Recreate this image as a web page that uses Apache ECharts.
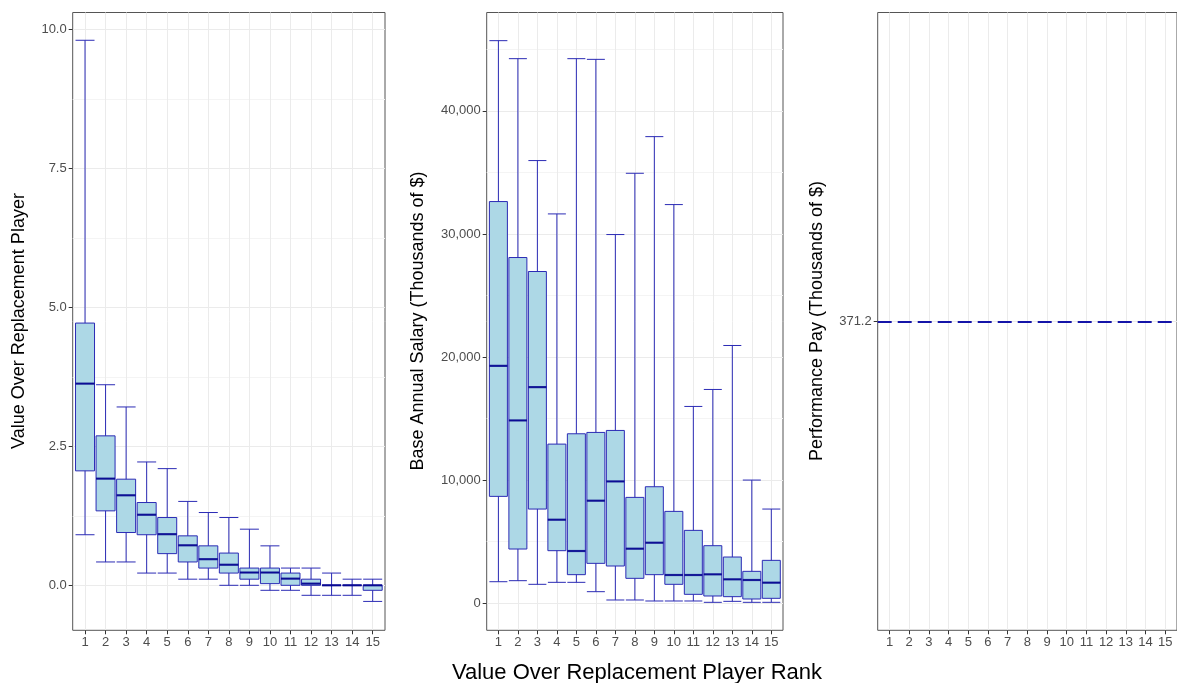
<!DOCTYPE html>
<html>
<head>
<meta charset="utf-8">
<script src="https://cdn.jsdelivr.net/npm/echarts@6/dist/echarts.min.js"></script>
<style>
html,body{margin:0;padding:0;background:#fff;}
#chart{width:1177px;height:683px;}
</style>
</head>
<body>
<div id="chart"></div>
<script>
// ---- data ----
const categories = [1,2,3,4,5,6,7,8,9,10,11,12,13,14,15];

// Panel 1: Value Over Replacement Player
const vorpLow    = [0.91, 0.42, 0.42, 0.22, 0.22, 0.11, 0.11, 0.00, 0.00, -0.09, -0.09, -0.18, -0.18, -0.18, -0.29];
const vorpQ1     = [2.06, 1.34, 0.95, 0.91, 0.57, 0.42, 0.31, 0.22, 0.11, 0.03, 0.00, 0.00, 0.00, 0.00, -0.09];
const vorpMedian = [3.63, 1.92, 1.62, 1.27, 0.92, 0.72, 0.47, 0.37, 0.23, 0.23, 0.12, 0.03, 0.00, 0.00, 0.00];
const vorpQ3     = [4.72, 2.69, 1.91, 1.49, 1.22, 0.89, 0.71, 0.58, 0.31, 0.31, 0.22, 0.11, 0.00, 0.00, 0.00];
const vorpHigh   = [9.81, 3.61, 3.21, 2.22, 2.10, 1.51, 1.31, 1.22, 1.01, 0.71, 0.31, 0.31, 0.22, 0.11, 0.11];

// Panel 2: Base Annual Salary (Thousands of $)
const salLow    = [1730, 1814, 1517, 1679, 1679, 920, 244, 244, 162, 162, 162, 54, 135, 54, 54];
const salQ1     = [8667, 4387, 7636, 4252, 2302, 3222, 3006, 2004, 2302, 1517, 704, 569, 514, 325, 379];
const salMedian = [19277, 14840, 17547, 6770, 4225, 8315, 9883, 4414, 4900, 2275, 2275, 2329, 1923, 1869, 1652];
const salQ3     = [32632, 28083, 26946, 12916, 13755, 13864, 14026, 8585, 9450, 7447, 5904, 4657, 3737, 2573, 3466];
const salHigh   = [45711, 44248, 35963, 31627, 44248, 44192, 29950, 34931, 37909, 32386, 15977, 17357, 20931, 9992, 7636];

// Panel 3: Performance Pay (Thousands of $)
const performancePay = 371.2;

// tick labels
const vorpTicks = [0, 2.5, 5, 7.5, 10];
const vorpMinorTicks = [1.25, 3.75, 6.25, 8.75];
const salTicks = [0, 10000, 20000, 30000, 40000];
const salMinorTicks = [5000, 15000, 25000, 35000, 45000];
const payTicks = [371.2];

// ---- styles ----
const FONT = '"Liberation Sans", Arial, sans-serif';
const boxFill = '#ADD8E6';
const boxLine = '#2B2BB5';
const medianColor = '#00008B';
const gridMajor = '#EBEBEB';
const gridMinor = '#F4F4F4';
const borderColor = '#555555';
const tickLabelColor = '#4D4D4D';

const grids = [
  {left: 72.7, top: 12.5, width: 312.3, height: 617.8},
  {left: 486.7, top: 12.5, width: 296.3, height: 617.8},
  {left: 877.7, top: 12.5, width: 304, height: 617.8}
].map(g => Object.assign({show: true, borderColor: borderColor, borderWidth: 1, backgroundColor: '#fff', containLabel: false}, g));

function xAxisFor(i) {
  return {
    type: 'value', gridIndex: i, min: 0.4, max: 15.6, position: 'bottom',
    axisLine: {show: false, onZero: false},
    axisTick: {show: true, length: 4, lineStyle: {color: '#333'}, customValues: categories},
    axisLabel: {show: true, customValues: categories, color: tickLabelColor, fontSize: 13, fontFamily: FONT, margin: 6},
    splitLine: {show: true, lineStyle: {color: gridMajor, width: 1}}
  };
}
function yMajor(i, min, max, ticks, fmt) {
  return {
    type: 'value', gridIndex: i, min: min, max: max, position: 'left',
    axisLine: {show: false, onZero: false},
    axisTick: {show: true, length: 4, lineStyle: {color: '#333'}, customValues: ticks},
    axisLabel: {show: true, customValues: ticks, color: tickLabelColor, fontSize: 13, fontFamily: FONT, margin: 6, formatter: fmt},
    splitLine: {show: true, lineStyle: {color: gridMajor, width: 1}}
  };
}
function yMinor(i, min, max, ticks) {
  return {
    type: 'value', gridIndex: i, min: min, max: max, position: 'left',
    axisLine: {show: false, onZero: false},
    axisTick: {show: false, customValues: ticks},
    axisLabel: {show: false, customValues: ticks},
    splitLine: {show: true, lineStyle: {color: gridMinor, width: 1}}
  };
}

function boxData(lo, q1, med, q3, hi) {
  return categories.map((c, i) => [c, lo[i], q1[i], med[i], q3[i], hi[i]]);
}
function medData(med) {
  return categories.map((c, i) => [c, med[i]]);
}

const option = {
  animation: false,
  backgroundColor: '#ffffff',
  textStyle: {fontFamily: FONT},
  grid: grids,
  xAxis: [xAxisFor(0), xAxisFor(1), xAxisFor(2)],
  yAxis: [
    yMajor(0, -0.81, 10.31, vorpTicks, v => v.toFixed(1)),
    yMinor(0, -0.81, 10.31, vorpMinorTicks),
    yMajor(1, -2220, 48000, salTicks, v => v.toLocaleString('en-US')),
    yMinor(1, -2220, 48000, salMinorTicks),
    yMajor(2, 370.7, 371.7, payTicks, v => v.toFixed(1))
  ],
  series: [
    {
      type: 'boxplot', xAxisIndex: 0, yAxisIndex: 0,
      data: boxData(vorpLow, vorpQ1, vorpMedian, vorpQ3, vorpHigh),
      boxWidth: [19, 19],
      itemStyle: {color: boxFill, borderColor: boxLine, borderWidth: 1},
      emphasis: {disabled: true}, silent: true
    },
    {
      type: 'scatter', xAxisIndex: 0, yAxisIndex: 0,
      data: medData(vorpMedian), symbol: 'rect', symbolSize: [19, 2.2],
      itemStyle: {color: medianColor}, silent: true, z: 5
    },
    {
      type: 'boxplot', xAxisIndex: 1, yAxisIndex: 2,
      data: boxData(salLow, salQ1, salMedian, salQ3, salHigh),
      boxWidth: [18, 18],
      itemStyle: {color: boxFill, borderColor: boxLine, borderWidth: 1},
      emphasis: {disabled: true}, silent: true
    },
    {
      type: 'scatter', xAxisIndex: 1, yAxisIndex: 2,
      data: medData(salMedian), symbol: 'rect', symbolSize: [18, 2.2],
      itemStyle: {color: medianColor}, silent: true, z: 5
    },
    {
      type: 'line', xAxisIndex: 2, yAxisIndex: 4,
      data: categories.map(c => [c, performancePay]),
      showSymbol: false, lineStyle: {opacity: 0}, silent: true,
      markLine: {
        silent: true, symbol: 'none', label: {show: false},
        lineStyle: {color: '#1414A8', width: 2, type: [14, 6]},
        data: [{yAxis: performancePay}]
      }
    }
  ],
  graphic: [
    {type: 'text', x: 19, y: 321, rotation: Math.PI / 2,
     style: {text: 'Value Over Replacement Player', font: '18px ' + FONT, fill: '#000', align: 'center', verticalAlign: 'middle'}},
    {type: 'text', x: 418, y: 321, rotation: Math.PI / 2,
     style: {text: 'Base Annual Salary (Thousands of $)', font: '18px ' + FONT, fill: '#000', align: 'center', verticalAlign: 'middle'}},
    {type: 'text', x: 817, y: 321, rotation: Math.PI / 2,
     style: {text: 'Performance Pay (Thousands of $)', font: '18px ' + FONT, fill: '#000', align: 'center', verticalAlign: 'middle'}},
    {type: 'text', x: 637, y: 673,
     style: {text: 'Value Over Replacement Player Rank', font: '22px ' + FONT, fill: '#000', align: 'center', verticalAlign: 'middle'}}
  ]
};

const chart = echarts.init(document.getElementById('chart'), null, {renderer: 'canvas'});
chart.setOption(option);
</script>
</body>
</html>
